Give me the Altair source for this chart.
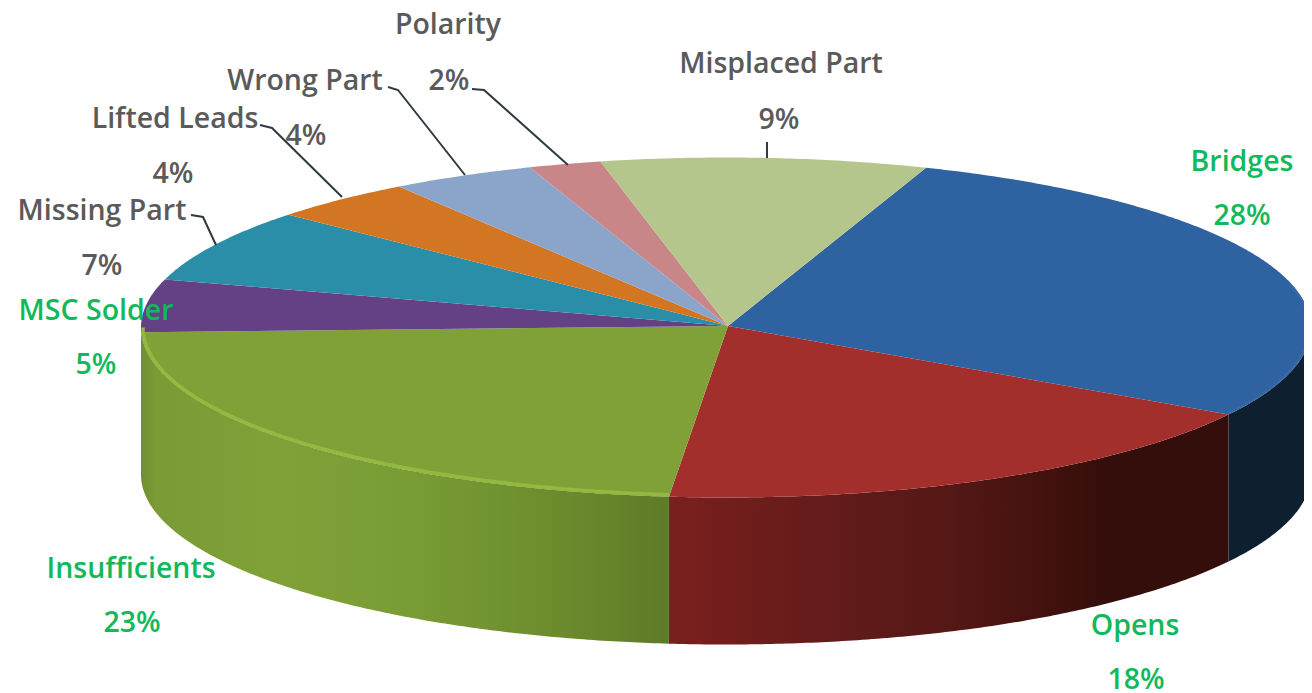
import math
import altair as alt

# ---- values ----
categories = ["Bridges", "Opens", "Insufficients", "MSC Solder", "Missing Part",
              "Lifted Leads", "Wrong Part", "Polarity", "Misplaced Part"]
shares = [28, 18, 23, 5, 7, 4, 4, 2, 9]
top_colors = ["#2e62a1", "#a32f2d", "#7fa137", "#644085", "#2b8ea9",
              "#d37624", "#8ba4c9", "#c98688", "#b4c68c"]
green_labels = ["Bridges", "Opens", "Insufficients", "MSC Solder"]

# ---- layout of the pseudo-3D pie (pixels in the 1312x693 picture) ----
CX, CY, RX, RY, DEPTH = 726.0, 327.5, 585.0, 170.0, 147.0
APEX = (728.0, 326.0)
START_DEG = 20.0
OFF_X, OFF_Y = 8, 8
W, H = 1296, 685
FONT = "Open Sans"
FSIZE = 28.5
TEXT_DY = 1.5

label_pos = {  # name centre, percent centre
    "Bridges": ((1242, 160), (1242, 214)),
    "Opens": ((1135, 624), (1136, 678)),
    "Insufficients": ((131, 567), (132, 621)),
    "MSC Solder": ((96, 309), (96, 363)),
    "Missing Part": ((102, 209), (102, 264)),
    "Lifted Leads": ((175, 117), (173, 172)),
    "Wrong Part": ((305, 79), (306, 134)),
    "Polarity": ((448, 23), (449, 79)),
    "Misplaced Part": ((781, 62), (779, 118)),
}
leaders = {
    "Polarity": [(472, 89), (484, 90), (568, 165)],
    "Wrong Part": [(388, 87), (398, 90), (465, 175)],
    "Lifted Leads": [(260, 125), (272, 128), (342, 197)],
    "Missing Part": [(191, 215), (203, 217), (216, 245)],
    "Misplaced Part": [(767, 142), (767, 158)],
}


def pt(deg, dy=0.0, shrink=0.0):
    a = math.radians(deg)
    return [CX + (RX - shrink) * math.sin(a), CY + dy - (RY - shrink) * math.cos(a)]


def arc(a0, a1, dy=0.0, shrink=0.0):
    n = max(2, int(abs(a1 - a0) * 2))
    return [pt(a0 + (a1 - a0) * i / n, dy, shrink) for i in range(n + 1)]


def feature(name, geom_type, coords):
    return {"type": "Feature", "properties": {"name": name},
            "geometry": {"type": geom_type, "coordinates": coords}}


# slice angles from the shares
bounds = {}
a = START_DEG
for c, s in zip(categories, shares):
    bounds[c] = (a, a + s * 3.6)
    a += s * 3.6

slices = [feature(c, "Polygon", [[list(APEX)] + arc(*bounds[c]) + [list(APEX)]]) for c in categories]


def wall(a0, a1):
    ring = arc(a0, a1) + arc(a1, a0, DEPTH)
    return feature("wall", "Polygon", [ring + [ring[0]]])


def grad(stops):
    return alt.Gradient(gradient="linear", x1=0, x2=1, y1=0, y2=0,
                        stops=[alt.GradientStop(offset=o, color=c) for o, c in stops])


def geo(features, **mark):
    return alt.Chart(alt.Data(values=features)).mark_geoshape(**mark).project(
        type="identity", scale=1, translate=[-OFF_X, -OFF_Y])


wall_bridges = geo([wall(90, bounds["Bridges"][1])], fill="#0e1f30", strokeWidth=0)
wall_opens = geo([wall(*bounds["Opens"])], strokeWidth=0, fill=grad([
    (0.0, "#7a201e"), (0.25, "#661c1a"), (0.5, "#541815"),
    (0.68, "#42110e"), (0.78, "#340e0b"), (1.0, "#330e0b")]))
wall_ins = geo([wall(bounds["Insufficients"][0], 270)], strokeWidth=0, fill=grad([
    (0.0, "#6f9030"), (0.03, "#7a9b35"), (0.25, "#7fa137"), (0.5, "#7a9c35"),
    (0.7, "#709130"), (0.87, "#67862b"), (1.0, "#5e7a26")]))

top = geo(slices, strokeWidth=0).encode(
    color=alt.Color("properties.name:N", legend=None,
                    scale=alt.Scale(domain=categories, range=top_colors)))

rim_green = geo([feature("rim", "LineString", arc(bounds["Insufficients"][0], 270, 0, 2))],
                filled=False, stroke="#93b93f", strokeWidth=3.5)
rim_blue = geo([feature("rim", "LineString", arc(75, bounds["Bridges"][1], 0, 1.5))],
               filled=False, stroke="#376aa6", strokeWidth=2)

x_enc = alt.X("x:Q", axis=None, scale=alt.Scale(domain=[OFF_X, OFF_X + W]))
y_enc = alt.Y("y:Q", axis=None, scale=alt.Scale(domain=[OFF_Y + H, OFF_Y]))

leader_rows = [{"name": k, "i": i, "x": p[0], "y": p[1]}
               for k, pts in leaders.items() for i, p in enumerate(pts)]
leader_layer = alt.Chart(alt.Data(values=leader_rows)).mark_line(
    color="#2f3a40", strokeWidth=2).encode(
    x=x_enc, y=y_enc, detail="name:N", order="i:Q")

green_rows, gray_rows = [], []
for c, s in zip(categories, shares):
    n, p = label_pos[c]
    rows = green_rows if c in green_labels else gray_rows
    rows.append({"t": c, "x": n[0], "y": n[1] + TEXT_DY})
    rows.append({"t": f"{s}%", "x": p[0], "y": p[1] + TEXT_DY})


def text_layer(rows, color):
    return alt.Chart(alt.Data(values=rows)).mark_text(
        font=FONT, fontSize=FSIZE, fontWeight=600, align="center", baseline="middle",
        color=color).encode(x=x_enc, y=y_enc, text="t:N")


chart = alt.layer(wall_bridges, wall_opens, wall_ins, top, rim_blue, rim_green,
                  leader_layer, text_layer(gray_rows, "#5a5a5a"),
                  text_layer(green_rows, "#12b95a")).properties(
    width=W, height=H, padding=0, background="white"
).configure_view(stroke=None)

chart.save("out.html", embed_options={"renderer": "svg", "actions": False})
